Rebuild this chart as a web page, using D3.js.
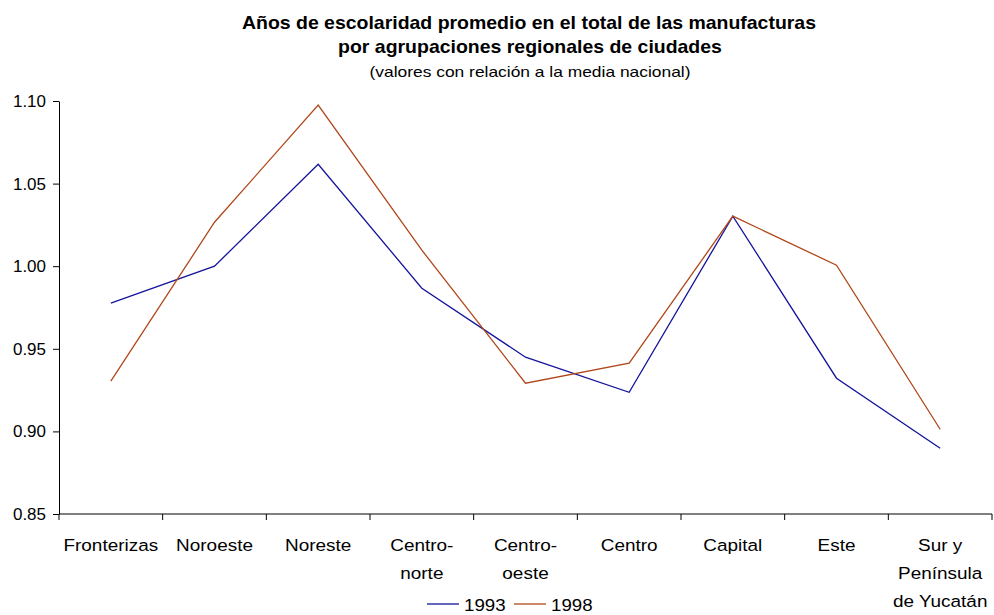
<!DOCTYPE html>
<html><head><meta charset="utf-8">
<script src="https://cdn.jsdelivr.net/npm/d3@7"></script>
<style>body{margin:0;background:#fff}svg{display:block;font-family:"Liberation Sans",Arial,sans-serif}</style>
</head><body><svg id="c" width="994" height="615"></svg>
<script>
const categories = [["Fronterizas"],["Noroeste"],["Noreste"],["Centro-","norte"],["Centro-","oeste"],["Centro"],["Capital"],["Este"],["Sur y","Península","de Yucatán"]];
const catKeys = categories.map(c => c.join(" "));
const series1993 = [0.9776, 1.0000, 1.0617, 0.9867, 0.9449, 0.9237, 1.0303, 0.9322, 0.8898];
const series1998 = [0.9304, 1.0266, 1.0975, 1.0097, 0.9292, 0.9413, 1.0303, 1.0006, 0.9013];
const yTicks = [0.85, 0.90, 0.95, 1.00, 1.05, 1.10];
const seriesNames = ["1993", "1998"];
const colors = ["#14149a", "#b0471a"];

const svg = d3.select("#c");
const L = 59, R = 992, T = 101, B = 514;
const x = d3.scaleBand().domain(catKeys).range([L, R]);
const y = d3.scaleLinear().domain([0.85, 1.10]).range([B, T]);

function stxt(g, px, py, str, size, anchor, sx, bold) {
  return g.append("text").attr("transform", `translate(${px},${py}) scale(${sx},1)`)
    .attr("text-anchor", anchor).attr("font-size", size).attr("fill", "#000")
    .attr("font-weight", bold ? "bold" : "normal").text(str);
}

// Title
stxt(svg, 529, 29, "Años de escolaridad promedio en el total de las manufacturas", 17.5, "middle", 1.112, true);
stxt(svg, 530, 53, "por agrupaciones regionales de ciudades", 17.5, "middle", 1.112, true);
stxt(svg, 530, 77, "(valores con relación a la media nacional)", 15, "middle", 1.16, false);

// Y axis
const yAxis = svg.append("g").attr("transform",`translate(${L},0)`)
  .call(d3.axisLeft(y).tickValues(yTicks).tickFormat(d3.format(".2f")).tickSize(6).tickSizeOuter(0));
yAxis.select(".domain").attr("stroke","#000");
yAxis.selectAll(".tick line").attr("stroke","#000");
yAxis.selectAll("text").remove();
yTicks.forEach(v => stxt(svg, 46, y(v) + 6, d3.format(".2f")(v), 16.5, "end", 1.03, false));

// X axis
const xAxis = svg.append("g").attr("transform",`translate(0,${B})`);
xAxis.append("line").attr("x1",L).attr("x2",R).attr("y1",0).attr("y2",0).attr("stroke","#000");
const bounds = catKeys.map(k => x(k)).concat([R]);
xAxis.selectAll(".tk").data(bounds).enter().append("line")
  .attr("x1",d=>d).attr("x2",d=>d).attr("y1",0).attr("y2",6).attr("stroke","#000");
categories.forEach((c,i) => {
  c.forEach((line,j) => stxt(xAxis, x(catKeys[i]) + x.bandwidth()/2, 37 + j*28, line, 17, "middle", 1.115, false));
});

// Lines
const line = d3.line().x((d,i)=>x(catKeys[i]) + x.bandwidth()/2).y(d=>y(d));
[series1993, series1998].forEach((s,k) => {
  svg.append("path").datum(s).attr("d",line).attr("fill","none").attr("stroke",colors[k]).attr("stroke-width",1.3);
});

// Legend
const lg = svg.append("g");
const lx = [427, 514];
seriesNames.forEach((n,k) => {
  lg.append("line").attr("x1",lx[k]).attr("x2",lx[k]+32).attr("y1",604).attr("y2",604).attr("stroke",colors[k]).attr("stroke-width",1.3);
  stxt(lg, lx[k]+37, 611, n, 17, "start", 1.1, false);
});
</script></body></html>
